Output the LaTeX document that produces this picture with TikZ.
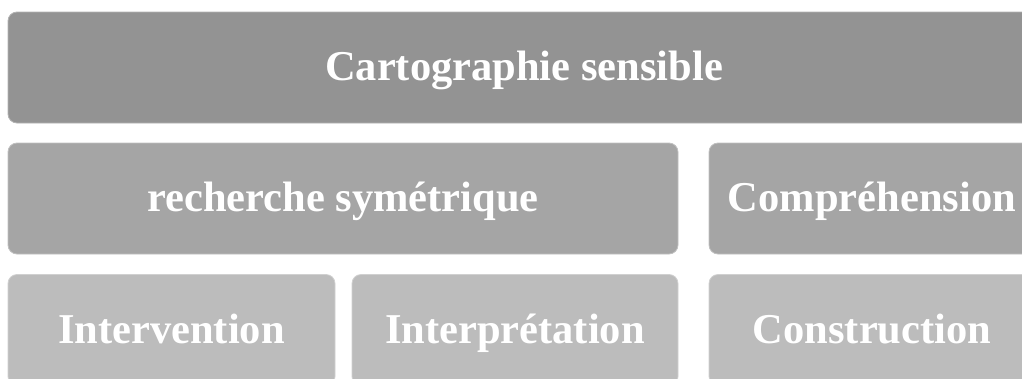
\documentclass[tikz,border=0pt]{standalone}
\usepackage{fontspec}
\setmainfont{Liberation Serif}
\usepackage{tikz}

\definecolor{tierA}{HTML}{939393}
\definecolor{tierB}{HTML}{A5A5A5}
\definecolor{tierC}{HTML}{BCBCBC}

\tikzset{
  tier/.style={rectangle, rounded corners=9pt, inner sep=0pt, minimum height=111pt,
    text height=32pt, text depth=6pt,
    text=white, font=\fontsize{42.5}{42.5}\selectfont\bfseries, line width=0.8pt},
  tierone/.style={tier, fill=tierA, draw=tierA!70!white},
  tiertwo/.style={tier, fill=tierB, draw=tierB!70!white},
  tierthree/.style={tier, fill=tierC, draw=tierC!70!white}
}

\begin{document}
\begin{tikzpicture}[x=1pt, y=-1pt]
  \useasboundingbox (0,0) rectangle (1022,378);
  \clip (0,0) rectangle (1022,378);
  % top level
  \node[tierone, minimum width=1032pt] (carto) at (524,67.5) {Cartographie sensible};
  % second level
  \node[tiertwo, minimum width=670pt] (recherche) at (343,198.5) {recherche symétrique};
  \node[tiertwo, minimum width=326pt] (compr) at (872,198.5) {Compréhension};
  % third level
  \node[tierthree, minimum width=327pt] (interv) at (171.5,330) {Intervention};
  \node[tierthree, minimum width=326pt] (interp) at (515,330) {Interprétation};
  \node[tierthree, minimum width=326pt] (constr) at (872,330) {Construction};
\end{tikzpicture}
\end{document}
